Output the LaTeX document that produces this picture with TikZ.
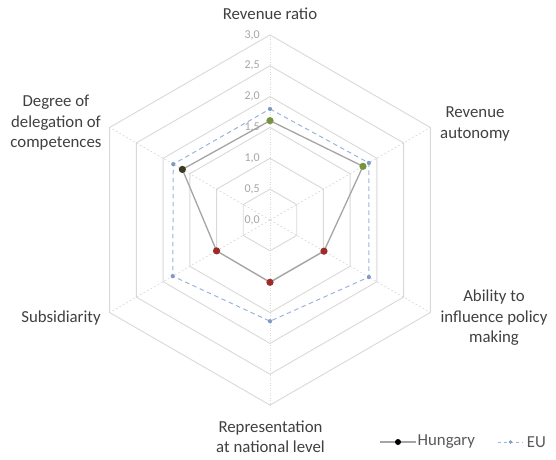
\documentclass[tikz,border=0pt]{standalone}
\usepackage{fontspec}
\setmainfont{Carlito}
\begin{document}
\begin{tikzpicture}[x=1pt,y=1pt,
  gridline/.style={draw=gridc, line width=0.9pt},
  spoke/.style={draw=gridc, line width=0.6pt, dash pattern=on 2pt off 2pt},
  vspoke/.style={draw=gridc, line width=0.8pt, dash pattern=on 1pt off 1.5pt},
  axlabel/.style={font=\fontsize{16.8}{20.5}\selectfont, text=labc, align=center, inner sep=0pt},
  ticklabel/.style={font=\fontsize{12}{14}\selectfont, text=tickc, anchor=east, inner sep=0pt},
  hunline/.style={draw=hunc, line width=1.3pt},
  euline/.style={draw=euc, line width=1pt, dash pattern=on 4.5pt off 3.5pt},
  hdot/.style={circle, fill=#1, inner sep=0pt, minimum size=7.2pt},
  edot/.style={circle, fill=eumk, inner sep=0pt, minimum size=4.2pt},
  legtext/.style={font=\fontsize{16.8}{20}\selectfont, text=legc, anchor=west, inner sep=0pt}
]
\definecolor{gridc}{HTML}{D9D9D9}
\definecolor{labc}{HTML}{404040}
\definecolor{tickc}{HTML}{A6A6A6}
\definecolor{hunc}{HTML}{A5A5A5}
\definecolor{euc}{HTML}{9DB4DE}
\definecolor{eumk}{HTML}{7F9AC8}
\definecolor{grn}{HTML}{77933C}
\definecolor{redd}{HTML}{9E2B2B}
\definecolor{dkol}{HTML}{3D3A22}
\definecolor{legc}{HTML}{595959}
\def\U{61.7}
\useasboundingbox (-270,220) rectangle (286,-239);
\fill[white] (-270,220) rectangle (286,-239);
% grid hexagons
\foreach \lv in {0.5,1,...,3} {
  \draw[gridline] (90:\lv*\U) -- (30:\lv*\U) -- (-30:\lv*\U) -- (-90:\lv*\U) -- (210:\lv*\U) -- (150:\lv*\U) -- cycle;
}
% spokes
\coordinate (c) at (0,0);
\foreach \a/\n in {30/sa,-30/sb,210/sc,150/sd} {
  \coordinate (\n) at (\a:3*\U);
  \draw[spoke] (c) -- (\n);
}
\coordinate (st) at (90:3*\U);
\coordinate (sbt) at (-90:3*\U);
\draw[vspoke] (c) -- (st);
\draw[vspoke] (c) -- (sbt);
% tick labels
\foreach \lv/\t in {0/{0,0},0.5/{0,5},1/{1,0},1.5/{1,5},2/{2,0},2.5/{2,5},3/{3,0}} {
  \node[ticklabel] at (-10,\lv*\U) {\t};
}
% EU series
\coordinate (e1) at (90:1.8*\U);
\coordinate (e2) at (30:1.85*\U);
\coordinate (e3) at (-30:1.85*\U);
\coordinate (e4) at (-90:1.64*\U);
\coordinate (e5) at (210:1.82*\U);
\coordinate (e6) at (150:1.81*\U);
\draw[euline] (e1) -- (e2) -- (e3) -- (e4) -- (e5) -- (e6) -- cycle;
\foreach \p in {e1,e2,e3,e4,e5,e6} \node[edot] at (\p) {};
% Hungary series
\coordinate (h1) at (90:1.61*\U);
\coordinate (h2) at (30:1.74*\U);
\coordinate (h3) at (-30:1.01*\U);
\coordinate (h4) at (-90:1.01*\U);
\coordinate (h5) at (210:1.0*\U);
\coordinate (h6) at (150:1.64*\U);
\draw[hunline] (h1) -- (h2) -- (h3) -- (h4) -- (h5) -- (h6) -- cycle;
\node[hdot=grn] at (h1) {};
\node[hdot=grn] at (h2) {};
\node[hdot=redd] at (h3) {};
\node[hdot=redd] at (h4) {};
\node[hdot=redd] at (h5) {};
\node[hdot=dkol] at (h6) {};
% axis labels
\node[axlabel] (l1) at (0,206) {Revenue ratio};
\node[axlabel] (l2) at (205,96) {Revenue\\autonomy};
\node[axlabel] (l3) at (224,-98) {Ability to\\influence policy\\making};
\node[axlabel] (l4) at (0.5,-216.5) {Representation\\at national level};
\node[axlabel] (l5) at (-209,-98) {Subsidiarity};
\node[axlabel] (l6) at (-214,97) {Degree of\\delegation of\\competences};
% legend
\coordinate (la) at (110,-222);
\coordinate (lb) at (146,-222);
\draw[hunline] (la) -- (lb);
\node[circle, fill=black, inner sep=0pt, minimum size=6pt] (lm) at (128,-222) {};
\node[legtext] (lh) at (147.5,-222) {Hungary};
\coordinate (ea) at (228,-222);
\coordinate (eb) at (253,-222);
\draw[euline, dash pattern=on 3pt off 3pt, line width=0.8pt] (ea) -- (eb);
\node[edot, minimum size=3.6pt] (em) at (240.5,-222) {};
\node[legtext] (le) at (256.7,-222) {EU};
\end{tikzpicture}
\end{document}
